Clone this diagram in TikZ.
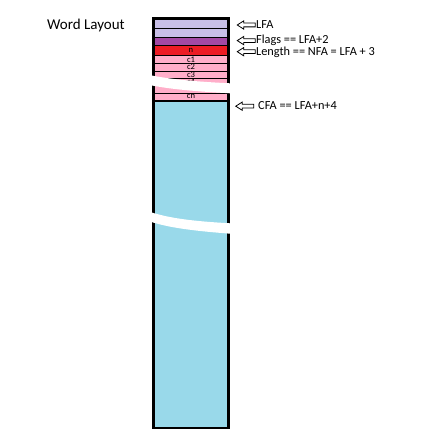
\documentclass[tikz,border=0pt]{standalone}
\usepackage{fontspec}
\setmainfont{Carlito}
\usetikzlibrary{shapes.arrows}
\definecolor{lav}{HTML}{C8BFE7}
\definecolor{purp}{HTML}{A349A4}
\definecolor{redc}{HTML}{ED1C24}
\definecolor{pinkc}{HTML}{FFAEC9}
\definecolor{bluec}{HTML}{99D9EA}
\begin{document}
\begin{tikzpicture}[x=1pt,y=-1pt,
  rowline/.style={line width=0.9pt},
  celltext/.style={font=\fontsize{8.6}{9}\selectfont, inner sep=0pt, anchor=center},
  lbl/.style={font=\fontsize{12.3}{14}\selectfont, inner sep=0pt, anchor=base west},
  ptr/.style={single arrow, draw, fill=white, line width=0.8pt, shape border rotate=180,
    minimum height=18pt, inner sep=1.5pt, single arrow head extend=2.3pt,
    single arrow tip angle=65, anchor=tip},
  brk/.style={fill=white, draw=none}]
\useasboundingbox (0,0) rectangle (448,443);
% title
\node[font=\fontsize{15}{17}\selectfont, inner sep=0pt, anchor=base west] (title) at (47,30) {Word Layout};
% cells
\fill[lav] (154,19) rectangle (228,37.5);
\fill[purp] (154,37.5) rectangle (228,45.5);
\fill[redc] (154,45.5) rectangle (228,55.5);
\fill[pinkc] (154,55.5) rectangle (228,100.5);
\fill[bluec] (154,100.5) rectangle (228,428);
\draw[rowline] (154,28.5) -- (228,28.5);
\draw[rowline] (154,37.5) -- (228,37.5);
\draw[rowline] (154,45.5) -- (228,45.5);
\draw[rowline] (154,55.5) -- (228,55.5);
\draw[rowline] (154,63) -- (228,63);
\draw[rowline] (154,71) -- (228,71);
\draw[rowline] (154,78) -- (228,78);
\draw[rowline] (154,85.5) -- (228,85.5);
\draw[rowline] (154,93) -- (228,93);
\draw[line width=1.8pt] (154,100.8) -- (228,100.8);
\node[celltext] (n) at (191,50.7) {n};
\node[celltext] (c1) at (191,59.4) {c1};
\node[celltext] (c2) at (191,67.1) {c2};
\node[celltext] (c3) at (191,74.6) {c3};
\node[celltext] (c4) at (191,82) {c4};
\node[celltext] (cn) at (191,96.9) {cn};
% outer border
\draw[line width=2.7pt] (153.7,18.7) rectangle (228.3,428);
% breaks
\fill[brk] (147,74.5) .. controls (165,78.5) and (190,81.5) .. (234,83.5)
  -- (234,93.5) .. controls (195,91.5) and (168,89) .. (147,84.5) -- cycle;
\fill[brk] (147,211) .. controls (165,217) and (185,221) .. (234,223.5)
  -- (234,234) .. controls (195,231) and (168,228) .. (147,220.5) -- cycle;
% pointers and labels
\node[ptr] (p1) at (236.5,25) {};
\node[lbl] (lfa) at (256,28.5) {LFA};
\node[ptr] (p2) at (236.5,40.6) {};
\node[lbl] (flags) at (256,44) {Flags == LFA+2};
\node[ptr] (p3) at (236.5,51.7) {};
\node[lbl] (len) at (256,55.4) {Length == NFA = LFA + 3};
\node[ptr] (p4) at (235,106.2) {};
\node[lbl] (cfa) at (258,110) {CFA == LFA+n+4};
\end{tikzpicture}
\end{document}
